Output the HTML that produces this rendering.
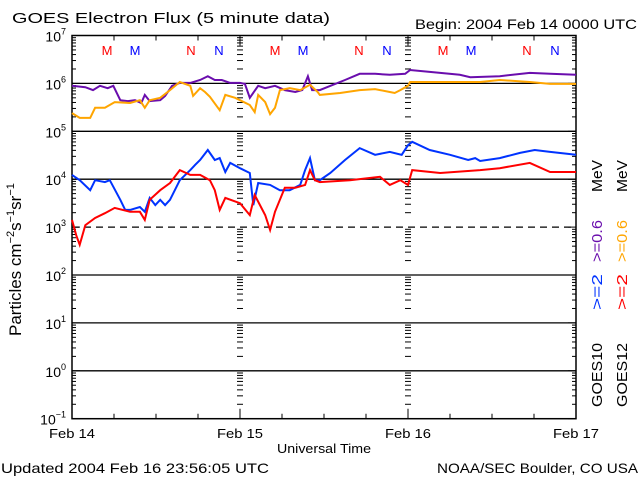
<!DOCTYPE html>
<html><head><meta charset="utf-8"><style>
html,body{margin:0;padding:0;background:#fff}
svg{display:block;font-family:"Liberation Sans",sans-serif}
</style></head><body>
<svg id="chart" width="640" height="480" viewBox="0 0 640 480"></svg>
<script>
// --- data (hours since Feb 14 00:00 UTC, log10 flux) ---
const purpleHours=[0,1.9,3.0,4.0,5.1,5.9,6.9,8.0,9.0,9.9,10.4,11.1,12.6,13.3,14.3,15.4,16.9,18.3,19.4,20.4,21.4,22.6,24.0,24.7,25.4,26.6,27.6,29.0,30.4,31.9,32.9,33.7,34.3,35.4,39.0,41.1,43.3,45.4,47.6,48.3,51.1,55.4,56.9,61.1,65.4,68.3,72];
const purpleLog=[5.95,5.92,5.86,5.95,5.90,5.95,5.65,5.63,5.65,5.59,5.76,5.63,5.65,5.74,5.95,6.01,6.01,6.07,6.15,6.07,6.07,6.01,6.01,5.99,5.70,5.95,5.90,5.95,5.86,5.82,5.86,6.15,5.86,5.86,6.07,6.20,6.20,6.18,6.20,6.28,6.24,6.18,6.13,6.15,6.22,6.20,6.18];
const orangeHours=[0,1.1,2.6,3.3,4.7,6.1,8.3,9.7,10.4,11.1,12.6,14.0,15.4,16.9,17.3,18.3,19.0,19.7,21.1,21.9,23.3,24.0,25.4,26.1,26.6,27.6,28.3,29.0,29.7,31.1,32.6,34.0,35.1,35.4,38.3,41.1,43.3,45.4,46.1,46.9,48.0,48.3,52.6,58.3,61.1,65.4,68.3,72];
const orangeLog=[5.38,5.28,5.28,5.49,5.49,5.61,5.59,5.65,5.49,5.65,5.70,5.86,6.03,5.95,5.74,5.90,5.82,5.72,5.44,5.76,5.70,5.65,5.55,5.40,5.76,5.61,5.36,5.49,5.86,5.90,5.86,5.97,5.82,5.76,5.80,5.86,5.88,5.82,5.80,5.86,5.95,6.03,6.03,6.03,6.07,6.03,5.99,5.99];
const blueHours=[0,1.1,2.6,3.3,4.7,5.4,6.9,7.6,8.3,9.7,10.4,11.1,11.9,12.6,13.3,14.0,15.4,16.9,17.6,18.3,19.4,20.4,21.1,21.9,22.6,24.0,25.4,25.9,26.6,28.3,29.7,31.1,32.6,33.3,34.0,34.7,35.4,36.9,39.0,41.1,43.3,45.4,47.1,48.0,48.6,51.1,54.0,56.6,57.6,58.3,61.1,64.0,66.1,68.3,72];
const blueLog=[4.09,3.98,3.77,3.98,3.94,3.98,3.57,3.36,3.36,3.42,3.32,3.61,3.46,3.57,3.46,3.57,3.98,4.19,4.30,4.40,4.61,4.40,4.44,4.15,4.34,4.23,4.13,3.46,3.92,3.88,3.77,3.77,3.88,4.19,4.44,3.98,3.98,4.13,4.40,4.65,4.51,4.57,4.51,4.71,4.78,4.61,4.51,4.40,4.44,4.38,4.44,4.55,4.61,4.57,4.51];
const redHours=[0,0.6,1.1,1.9,3.3,4.7,6.1,8.3,9.7,10.4,11.1,12.6,14.0,15.4,16.9,18.3,19.7,20.4,21.1,21.9,24.0,25.4,26.1,27.6,28.3,29.0,30.4,31.9,33.3,34.0,34.7,35.4,39.7,44.0,45.4,46.9,48.0,48.6,52.6,58.3,61.1,65.4,68.3,72];
const redLog=[3.15,2.83,2.63,3.04,3.19,3.29,3.40,3.32,3.32,3.15,3.57,3.77,3.92,4.19,4.09,4.09,3.98,3.77,3.36,3.61,3.50,3.25,3.67,3.25,2.94,3.32,3.82,3.82,3.88,4.19,3.98,3.94,3.98,4.05,3.88,3.98,3.88,4.19,4.13,4.19,4.23,4.34,4.15,4.15];
const yTickExps=[7,6,5,4,3,2,1,0,-1];
const dayLabels=["Feb 14","Feb 15","Feb 16","Feb 17"];
const markerLetters=["M","M","N","N"];

const NS="http://www.w3.org/2000/svg";
const svg=document.getElementById('chart');
const L=72,R=576,T=35.5,B=418.7;
const X=h=>L+(R-L)*h/72;
const Y=lg=>T+(7-lg)*(B-T)/8;
function mk(tag,attrs,parent){const e=document.createElementNS(NS,tag);for(const k in attrs)e.setAttribute(k,attrs[k]);(parent||svg).appendChild(e);return e;}

// title
let t=mk('text',{x:12,y:23,'font-size':15,fill:'#000',textLength:318,lengthAdjust:'spacingAndGlyphs'});t.textContent='GOES Electron Flux (5 minute data)';


t=mk('text',{x:415,y:29,'font-size':14,fill:'#000',textLength:222,lengthAdjust:'spacingAndGlyphs'});t.textContent='Begin: 2004 Feb 14 0000 UTC';



// grid lines
const grid=mk('g',{});


yTickExps.forEach(e=>{
  if(e===7||e===-1)return;
  const y=Y(e);
  const ln=mk('line',{x1:L,x2:R,y1:y,y2:y,stroke:'#000','stroke-width':1.3,'stroke-dasharray':e===3?'7,5':'none'},grid);
  
  
});

// minor ticks
const ticks=mk('g',{stroke:'#000','stroke-width':1});


for(let e=-1;e<7;e++){
  for(let m=1;m<10;m++){
    const y=Y(e+Math.log10(m));
    const len=m===1?8:4;
    mk('line',{x1:L,x2:L+len,y1:y,y2:y},ticks);
    mk('line',{x1:R-len,x2:R,y1:y,y2:y},ticks);
    if(m>1){[24,48].forEach(h=>{mk('line',{x1:X(h)-3,x2:X(h)+3,y1:y,y2:y},ticks);});}
  }
}
for(let h=0;h<=72;h+=6){
  const x=X(h);const len=h%24===0?10:5;
  mk('line',{x1:x,x2:x,y1:B,y2:B-len},ticks);
  mk('line',{x1:x,x2:x,y1:T,y2:T+len},ticks);
}

// frame
const fr=mk('rect',{x:L,y:T,width:R-L,height:B-T,fill:'none',stroke:'#000','stroke-width':1.5});



// y tick labels
yTickExps.forEach(e=>{
  const g=mk('text',{x:66,y:Y(e)+6,'font-size':14,'text-anchor':'end',fill:'#000'});
  
  
  const a=mk('tspan',{},g);a.textContent='10';
  const b=mk('tspan',{dy:-7,'font-size':9},g);b.textContent=String(e).replace('-','\u2212');
});
// x tick labels
dayLabels.forEach((d,i)=>{
  const g=mk('text',{x:X(i*24)-23,y:438,'font-size':13,fill:'#000',textLength:46,lengthAdjust:'spacingAndGlyphs'});g.textContent=d;
  
  
});
t=mk('text',{x:277,y:453,'font-size':13,fill:'#000',textLength:94,lengthAdjust:'spacingAndGlyphs'});t.textContent='Universal Time';


t=mk('text',{x:1,y:473,'font-size':14,fill:'#000',textLength:268,lengthAdjust:'spacingAndGlyphs'});t.textContent='Updated 2004 Feb 16 23:56:05 UTC';


t=mk('text',{x:437,y:473,'font-size':14,fill:'#000',textLength:201,lengthAdjust:'spacingAndGlyphs'});t.textContent='NOAA/SEC Boulder, CO USA';



// y axis title
t=mk('text',{x:0,y:0,'font-size':17,fill:'#000',transform:'translate(21,336) rotate(-90)'});


let s=mk('tspan',{},t);s.textContent='Particles cm';
s=mk('tspan',{dy:-7,'font-size':11},t);s.textContent='\u22122';
s=mk('tspan',{dy:7},t);s.textContent='s';
s=mk('tspan',{dy:-7,'font-size':11},t);s.textContent='\u22121';
s=mk('tspan',{dy:7},t);s.textContent='sr';
s=mk('tspan',{dy:-7,'font-size':11},t);s.textContent='\u22121';

// M/N markers
markerLetters.forEach((c,i)=>{
  for(let d=0;d<3;d++){
    const x=[107,135,191,219][i]-72+X(d*24);
    const m=mk('text',{x:x,y:55,'font-size':13,'text-anchor':'middle',fill:i%2===0?'#ff0000':'#0000ff'});m.textContent=c;
    
    
  }
});

// series
function series(hours,vals,color,name){
  const d=hours.map((h,i)=>(i?'L':'M')+X(h).toFixed(1)+','+Y(vals[i]).toFixed(1)).join('');
  const p=mk('path',{d:d,fill:'none',stroke:color,'stroke-width':2,'stroke-linejoin':'miter'});
  
  
}
series(purpleHours,purpleLog,'#6a0dad','series-goes10-0.6mev');
series(orangeHours,orangeLog,'#ffa500','series-goes12-0.6mev');
series(blueHours,blueLog,'#0033ff','series-goes10-2mev');
series(redHours,redLog,'#ff0000','series-goes12-2mev');

// legend (rotated, pieces placed separately)
function piece(x,y,len,txt,color,name){
  const g=mk('text',{x:0,y:0,'font-size':15,fill:color,textLength:len,lengthAdjust:'spacingAndGlyphs',transform:'translate('+x+','+y+') rotate(-90)'});
  g.textContent=txt;
  
  
}
piece(602,407,64,'GOES10','#000','legend-goes10-label');
piece(602,310,36,'>=2','#0033ff','legend-goes10-2mev');
piece(602,262,42,'>=0.6','#6a0dad','legend-goes10-0.6mev');
piece(602,192,32,'MeV','#000','legend-goes10-unit');
piece(627,407,64,'GOES12','#000','legend-goes12-label');
piece(627,310,36,'>=2','#ff0000','legend-goes12-2mev');
piece(627,262,42,'>=0.6','#ffa500','legend-goes12-0.6mev');
piece(627,192,32,'MeV','#000','legend-goes12-unit');
</script>
</body></html>
